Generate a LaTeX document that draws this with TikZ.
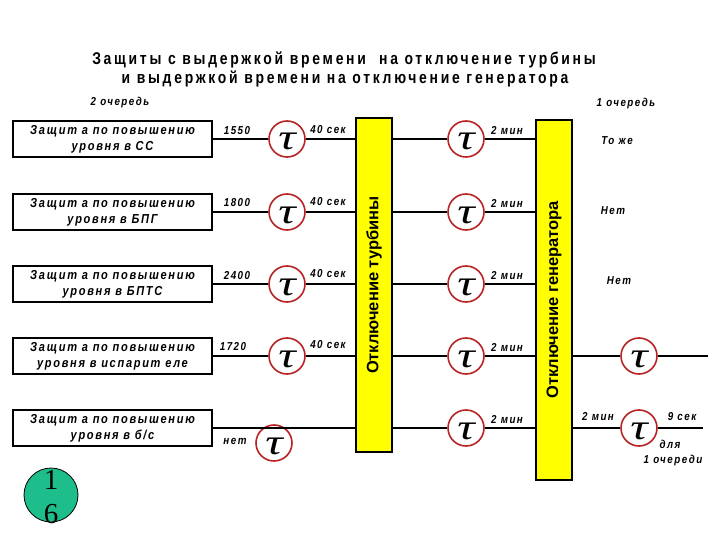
\documentclass[tikz,border=0pt]{standalone}
\usepackage{fontspec}
\setmainfont{Liberation Sans}
\newfontfamily\spaced[LetterSpace=13,FakeStretch=0.85]{Liberation Sans}
\newfontfamily\headfont[LetterSpace=16,FakeStretch=0.82]{Liberation Sans}
\newfontfamily\numfont{Liberation Serif}
\usetikzlibrary{positioning}
\definecolor{bargold}{RGB}{255,255,0}
\definecolor{taured}{RGB}{185,35,35}
\definecolor{pagegreen}{RGB}{30,190,140}
\newcommand{\tauglyph}{\raisebox{-11pt}[0pt][0pt]{\scalebox{1.35}[1]{τ}}}

\begin{document}
\begin{tikzpicture}[x=1pt,y=-1pt,
  prot/.style={draw, line width=1.6pt, minimum width=199pt, minimum height=36pt, inner sep=0pt, align=center, font=\spaced\fontsize{13}{16}\selectfont\bfseries\itshape},
  tau/.style={draw=taured, circle, line width=1.6pt, fill=white, minimum size=36pt, inner sep=0pt, font=\numfont\fontsize{36}{36}\selectfont\itshape},
  bar/.style={draw, line width=1.6pt, fill=bargold, minimum width=36pt, inner sep=0pt},
  lbl/.style={font=\spaced\fontsize{11.5}{13}\selectfont\bfseries\itshape, inner sep=0pt},
  wire/.style={line width=1.6pt}]
  \useasboundingbox (0,0) rectangle (720,540);
  \node[font=\headfont\fontsize{17}{20}\selectfont\bfseries] (title1) at (344,60) {Защиты с выдержкой времени \ на отключение турбины};
  \node[font=\headfont\fontsize{17}{20}\selectfont\bfseries] (title2) at (345,79) {и выдержкой времени на отключение генератора};
  \node[lbl] (second) at (120,103) {2 очередь};
  \node[lbl] (first) at (626,104) {1 очередь};

  \node[bar, minimum height=334pt] (turb) at (374,285) {};
  \node[rotate=90, font=\fontsize{16.5}{19}\selectfont\bfseries] (turbtxt) at (turb.center) {Отключение турбины};
  \node[bar, minimum height=360pt] (gen) at (554,300) {};
  \node[rotate=90, font=\fontsize{16.5}{19}\selectfont\bfseries] (gentxt) at (gen.center) {Отключение генератора};

  \node[prot] (b1) at (112.5,139) {Защит а по повышению\\уровня в СС};
  \node[prot] (b2) at (112.5,212) {Защит а по повышению\\уровня в БПГ};
  \node[prot] (b3) at (112.5,284) {Защит а по повышению\\уровня в БПТС};
  \node[prot] (b4) at (112.5,356) {Защит а по повышению\\уровня в испарит еле};
  \node[prot] (b5) at (112.5,428) {Защит а по повышению\\уровня в б/с};

  \node[tau] (t1) at (287,139) {\tauglyph};
  \node[tau] (t2) at (287,212) {\tauglyph};
  \node[tau] (t3) at (287,284) {\tauglyph};
  \node[tau] (t4) at (287,356) {\tauglyph};
  \node[tau] (t5) at (274,443) {\tauglyph};

  \foreach \i/\y in {1/139,2/212,3/284,4/356,5/428}
    \node[tau] (m\i) at (466,\y) {\tauglyph};
  \node[tau] (r4) at (639,356) {\tauglyph};
  \node[tau] (r5) at (639,428) {\tauglyph};
  \coordinate (e4) at (708,356);
  \coordinate (e5) at (703,428);

  \foreach \i in {1,2,3,4} {
    \draw[wire] (b\i.east) -- (t\i);
    \draw[wire] (t\i) -- (t\i -| turb.west);
  }
  \draw[wire] (b5.east) -- (b5.east -| turb.west);
  \foreach \i in {1,...,5} {
    \draw[wire] (m\i -| turb.east) -- (m\i);
    \draw[wire] (m\i) -- (m\i -| gen.west);
    \node[lbl] (min\i) at ([shift={(41,-8)}]m\i.center) {2 мин};
  }
  \draw[wire] (r4 -| gen.east) -- (r4);
  \draw[wire] (r4) -- (e4);
  \draw[wire] (r5 -| gen.east) -- (r5);
  \draw[wire] (r5) -- (e5);

  \node[lbl] (v1) at (237,131) {1550};
  \node[lbl] (v2) at (237,203) {1800};
  \node[lbl] (v3) at (237,276) {2400};
  \node[lbl] (v4) at (233,347) {1720};
  \node[lbl] (v5) at (235,441) {нет};
  \node[lbl] (d1) at (328,130) {40 сек};
  \node[lbl] (d2) at (328,202) {40 сек};
  \node[lbl] (d3) at (328,274) {40 сек};
  \node[lbl] (d4) at (328,345) {40 сек};

  \node[lbl] (n1) at (617,141) {То же};
  \node[lbl] (n2) at (613,211) {Нет};
  \node[lbl] (n3) at (619,281) {Нет};
  \node[lbl] (g5) at (598,417) {2 мин};
  \node[lbl] (s5) at (682,417) {9 сек};
  \node[lbl] (for1) at (670,444) {для};
  \node[lbl] (for2) at (673,461) {1 очереди};

  \node[circle, draw, line width=0.8pt, fill=pagegreen, minimum size=54pt, inner sep=0pt] (page) at (51,495) {};
  \node[font=\numfont\fontsize{29}{34}\selectfont, align=center, inner sep=0pt] (pagenum) at (51,497) {1\\6};
\end{tikzpicture}
\end{document}
